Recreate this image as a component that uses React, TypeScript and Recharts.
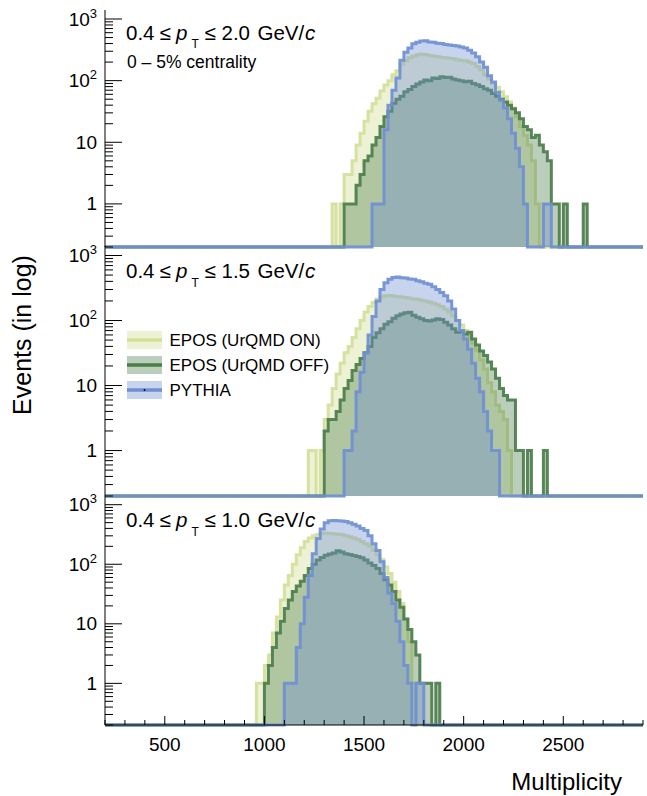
import { ComposedChart, Area, XAxis, YAxis, Legend } from 'recharts';

const W = 647;
const H = 796;
const PLOT_L = 105;
const PLOT_R = 643;
const M_TOP = 10;
const FONT = '"Liberation Sans", Arimo, Arial, Helvetica, sans-serif';

const BIN = 20;
const X_MIN = 200;
const X_MAX = 2900;
const Y_MIN = 0.2;
const Y_MAX = 1400;

const X_TICKS = [200, 300, 400, 500, 600, 700, 800, 900, 1000, 1100, 1200, 1300, 1400, 1500, 1600, 1700, 1800, 1900, 2000, 2100, 2200, 2300, 2400, 2500, 2600, 2700, 2800, 2900];
const X_LABELS = [500, 1000, 1500, 2000, 2500];
const Y_TICKS = [0.2, 0.3, 0.4, 0.5, 0.6, 0.7, 0.8, 0.9, 1, 2, 3, 4, 5, 6, 7, 8, 9, 10, 20, 30, 40, 50, 60, 70, 80, 90, 100, 200, 300, 400, 500, 600, 700, 800, 900, 1000];
const Y_LABELS = [1, 10, 100, 1000];

// pT upper cut for each panel
const PT_MAX = ['2.0', '1.5', '1.0'];

// counts per 20-unit bin, first bin lower edge in *_START
const P1_ON_START = 1340;
const P1_ON = [1, 0, 1, 3, 3, 5, 9, 14, 22, 32, 42, 52, 68, 85, 100, 125, 145, 185, 210, 235, 250, 262, 270, 265, 255, 250, 246, 240, 236, 230, 226, 218, 215, 210, 200, 190, 170, 150, 125, 105, 90, 78, 66, 55, 45, 36, 26, 18, 13, 9, 5, 1];
const P1_OFF_START = 1400;
const P1_OFF = [1, 1, 1, 2, 3, 5, 6, 9, 12, 18, 26, 32, 43, 50, 56, 66, 72, 80, 88, 95, 102, 100, 110, 108, 116, 112, 114, 106, 102, 100, 96, 98, 90, 86, 80, 74, 70, 62, 56, 50, 45, 40, 35, 30, 24, 18, 16, 12, 13, 9, 7, 5, 1, 1, 0, 1, 0, 0, 0, 0, 1];
const P1_PY_START = 1540;
const P1_PY = [1, 1, 1, 16, 40, 70, 110, 215, 290, 340, 395, 420, 440, 445, 425, 420, 405, 400, 385, 380, 370, 365, 352, 340, 310, 280, 245, 200, 165, 120, 95, 65, 48, 36, 24, 14, 8, 4, 1, 0, 0, 0, 0, 1, 1];

const P2_ON_START = 1220;
const P2_ON = [1, 1, 0, 1, 3, 5, 9, 15, 22, 32, 40, 55, 75, 100, 135, 165, 190, 215, 232, 240, 242, 238, 235, 230, 225, 220, 215, 212, 205, 200, 192, 185, 175, 165, 150, 135, 118, 100, 85, 70, 58, 45, 35, 25, 18, 11, 8, 5, 4, 3, 1];
const P2_OFF_START = 1300;
const P2_OFF = [2, 3, 3, 4, 6, 9, 12, 17, 21, 26, 32, 40, 55, 65, 75, 88, 96, 108, 118, 126, 132, 134, 120, 112, 106, 100, 98, 102, 106, 104, 94, 85, 75, 66, 68, 62, 66, 52, 42, 34, 29, 23, 18, 13, 9, 7, 6, 6, 1, 1, 0, 1, 0, 0, 0, 1];
const P2_PY_START = 1400;
const P2_PY = [1, 1, 2, 8, 16, 32, 60, 115, 200, 300, 380, 430, 460, 465, 455, 450, 435, 430, 410, 395, 375, 360, 330, 300, 270, 240, 200, 150, 100, 70, 52, 36, 22, 13, 8, 4, 2, 1, 1];

const P3_ON_START = 960;
const P3_ON = [1, 1, 2, 3, 7, 13, 25, 45, 65, 100, 145, 190, 240, 275, 300, 315, 330, 335, 330, 325, 320, 315, 300, 290, 275, 260, 240, 220, 200, 170, 145, 120, 90, 70, 50, 35, 22, 12, 5, 1];
const P3_OFF_START = 1000;
const P3_OFF = [1, 2, 4, 7, 11, 18, 25, 35, 43, 52, 65, 85, 100, 118, 130, 142, 148, 155, 168, 160, 150, 146, 140, 135, 128, 118, 105, 95, 85, 70, 55, 45, 35, 25, 19, 12, 8, 5, 3, 1, 1, 1, 0, 1];
const P3_PY_START = 1100;
const P3_PY = [1, 1, 1, 4, 10, 28, 65, 150, 270, 390, 500, 540, 545, 540, 535, 520, 500, 470, 440, 400, 370, 300, 220, 170, 110, 60, 33, 22, 11, 5, 2, 1, 0, 1, 1];

const SERIES = [
  { key: 'on', name: 'EPOS (UrQMD ON)', color: '#d3e09a', fillOpacity: 0.42 },
  { key: 'off', name: 'EPOS (UrQMD OFF)', color: '#4b7d4b', fillOpacity: 0.38 },
  { key: 'py', name: 'PYTHIA', color: '#6f8fd2', fillOpacity: 0.38 },
];

type Hist = { start: number; values: number[] };

// empty bins sit on the frame floor (log axis)
function countAt(h: Hist, u: number) {
  const i = (u - h.start) / BIN;
  const v = i >= 0 && i < h.values.length ? h.values[i] : 0;
  return v > 0 ? v : Y_MIN;
}

function buildRows(on: Hist, off: Hist, py: Hist) {
  const rows: { u: number; on: number; off: number; py: number }[] = [];
  for (let u = X_MIN; u <= X_MAX; u += BIN) {
    rows.push({ u, on: countAt(on, u), off: countAt(off, u), py: countAt(py, u) });
  }
  return rows;
}

const PANELS = [
  {
    top: 10, height: 237, labels: false, legend: false, pt: PT_MAX[0], titleY: 39.5,
    rows: buildRows({ start: P1_ON_START, values: P1_ON }, { start: P1_OFF_START, values: P1_OFF }, { start: P1_PY_START, values: P1_PY }),
  },
  {
    top: 246, height: 250, labels: false, legend: true, pt: PT_MAX[1], titleY: 278.3,
    rows: buildRows({ start: P2_ON_START, values: P2_ON }, { start: P2_OFF_START, values: P2_OFF }, { start: P2_PY_START, values: P2_PY }),
  },
  {
    top: 496, height: 229, labels: true, legend: false, pt: PT_MAX[2], titleY: 527,
    rows: buildRows({ start: P3_ON_START, values: P3_ON }, { start: P3_OFF_START, values: P3_OFF }, { start: P3_PY_START, values: P3_PY }),
  },
];

// ROOT style: ticks point into the frame
const makeXTick = (edge: number, dir: number, showLabels: boolean) => (props: any) => {
  const { x, payload } = props;
  const v = payload.value;
  const len = v % 500 === 0 ? 9 : 5;
  return (
    <g>
      <line x1={x} x2={x} y1={edge} y2={edge - dir * len} stroke="#000" strokeWidth={1} />
      {showLabels && X_LABELS.includes(v) && (
        <text x={x} y={edge + 26} textAnchor="middle" fontSize={19} fontFamily={FONT} fill="#000">
          {v}
        </text>
      )}
    </g>
  );
};

const YTickLeft = (props: any) => {
  const { y, payload } = props;
  const v = payload.value;
  const major = Y_LABELS.includes(v);
  const exp = Math.round(Math.log10(v));
  return (
    <g>
      <line x1={PLOT_L} x2={PLOT_L + (major ? 17 : 8)} y1={y} y2={y} stroke="#000" strokeWidth={1} />
      {major && (
        <text x={97} y={y + 6.5} textAnchor="end" fontSize={19} fontFamily={FONT} fill="#000">
          {exp >= 2 ? (
            <>
              10<tspan dy={-8} fontSize={13}>{exp}</tspan>
            </>
          ) : (
            String(v)
          )}
        </text>
      )}
    </g>
  );
};

const YTickRight = (props: any) => {
  const { y, payload } = props;
  const major = Y_LABELS.includes(payload.value);
  return <line x1={PLOT_R - (major ? 17 : 8)} x2={PLOT_R} y1={y} y2={y} stroke="#000" strokeWidth={1} />;
};

const renderLegend = () => (
  <svg width={240} height={72} style={{ display: 'block' }}>
    {SERIES.map((s, i) => {
      const y0 = i * 25;
      return (
        <g key={s.key}>
          <rect x={0} y={y0} width={35} height={18} fill={s.color} fillOpacity={s.fillOpacity} />
          <line x1={0} x2={35} y1={y0 + 9} y2={y0 + 9} stroke={s.color} strokeWidth={3.5} />
          {s.key === 'py' && <circle cx={17.5} cy={y0 + 9} r={0.9} fill="#000" />}
          <text x={42.5} y={y0 + 14.7} fontSize={17} fontFamily={FONT} fill="#000">
            {s.name}
          </text>
        </g>
      );
    })}
  </svg>
);

function Panel({ p }: { p: (typeof PANELS)[number] }) {
  const bottom = M_TOP + p.height;
  const axisH = p.labels ? 30 : 0;
  return (
    <div style={{ position: 'absolute', left: 0, top: p.top - M_TOP }}>
      <ComposedChart
        width={W}
        height={M_TOP + p.height + axisH + 2}
        data={p.rows}
        margin={{ top: M_TOP, right: W - PLOT_R, bottom: 2, left: PLOT_L - 60 }}
      >
        <XAxis
          dataKey="u"
          type="number"
          domain={[X_MIN, X_MAX]}
          ticks={X_TICKS}
          interval={0}
          height={axisH}
          tickLine={false}
          axisLine={{ stroke: '#000' }}
          tick={makeXTick(bottom, 1, p.labels)}
        />
        <XAxis
          xAxisId="top"
          orientation="top"
          dataKey="u"
          type="number"
          domain={[X_MIN, X_MAX]}
          ticks={X_TICKS}
          interval={0}
          height={0}
          tickLine={false}
          axisLine={{ stroke: '#000' }}
          tick={makeXTick(M_TOP, -1, false)}
        />
        <YAxis
          scale="log"
          type="number"
          domain={[Y_MIN, Y_MAX]}
          ticks={Y_TICKS}
          interval={0}
          width={60}
          tickLine={false}
          axisLine={{ stroke: '#000' }}
          tick={YTickLeft}
        />
        <YAxis
          yAxisId="r"
          orientation="right"
          scale="log"
          type="number"
          domain={[Y_MIN, Y_MAX]}
          ticks={Y_TICKS}
          interval={0}
          width={0}
          tickLine={false}
          axisLine={{ stroke: '#000' }}
          tick={YTickRight}
        />
        {SERIES.map((s) => (
          <Area
            key={s.key}
            type="stepAfter"
            dataKey={s.key}
            name={s.name}
            stroke={s.color}
            strokeWidth={3}
            strokeOpacity={0.92}
            fill={s.color}
            fillOpacity={s.fillOpacity}
            dot={false}
            activeDot={false}
            isAnimationActive={false}
          />
        ))}
        {p.legend && (
          <Legend
            layout="vertical"
            verticalAlign="middle"
            align="center"
            content={renderLegend}
            wrapperStyle={{ left: 126.7, top: 95, width: 240, height: 72 }}
          />
        )}
      </ComposedChart>
    </div>
  );
}

function PanelTitle({ y, pt }: { y: number; pt: string }) {
  return (
    <text y={y} fontSize={20.5} fontFamily={FONT} fill="#000">
      <tspan x={126}>0.4</tspan>
      <tspan x={159.5}>≤</tspan>
      <tspan x={176} fontStyle="italic">p</tspan>
      <tspan x={191.5} y={y + 8.5} fontSize={12}>T</tspan>
      <tspan x={204.5} y={y}>≤</tspan>
      <tspan x={221.5}>{pt}</tspan>
      <tspan x={257.5}>GeV/</tspan>
      <tspan x={305} fontStyle="italic">c</tspan>
    </text>
  );
}

export default function App() {
  return (
    <div style={{ position: 'absolute', left: 0, top: 0, width: W, height: H, background: '#fff', overflow: 'hidden' }}>
      {PANELS.map((p, i) => (
        <Panel key={i} p={p} />
      ))}
      <svg width={W} height={H} style={{ position: 'absolute', left: 0, top: 0, pointerEvents: 'none' }}>
        {PANELS.map((p, i) => (
          <PanelTitle key={i} y={p.titleY} pt={p.pt} />
        ))}
        <text x={127} y={67.5} fontSize={17.5} fontFamily={FONT} fill="#000">
          0 – 5% centrality
        </text>
        <text x={31} y={335} transform="rotate(-90 31 335)" textAnchor="middle" fontSize={25} fontFamily={FONT} fill="#000">
          Events (in log)
        </text>
        <text x={622} y={790} textAnchor="end" fontSize={24} fontFamily={FONT} fill="#000">
          Multiplicity
        </text>
      </svg>
    </div>
  );
}
